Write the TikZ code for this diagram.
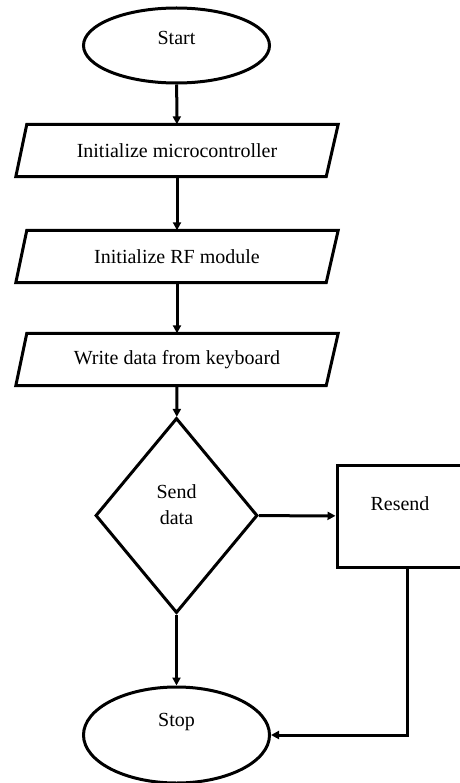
\documentclass[tikz,border=0pt]{standalone}
\usepackage{fontspec}
\setmainfont{Liberation Serif}
\usetikzlibrary{shapes.geometric,arrows.meta}

\begin{document}
\begin{tikzpicture}[x=1pt, y=-1pt,
    every node/.style={font=\fontsize{20}{26}\selectfont},
    outline/.style={draw=black, line width=3pt, line join=miter},
    flow/.style={line width=3pt, -{Triangle[length=8pt,width=8pt]}},
    terminal/.style={ellipse, outline, minimum width=186pt, inner sep=0pt},
    iobox/.style={rectangle, minimum width=322pt, minimum height=52pt, inner sep=0pt},
    decision/.style={diamond, outline, minimum width=162pt, minimum height=195pt, inner sep=0pt},
    process/.style={rectangle, outline, minimum width=141pt, minimum height=102pt, inner sep=0pt}]
    \useasboundingbox (0,0) rectangle (459,783);

    % Start
    \node[terminal, minimum height=75pt] (start) at (176.5, 45.5) {};
    \node (startlbl) at (176.5, 38) {Start};

    % Input boxes
    \node[iobox] (init) at (177, 150.5) {Initialize microcontroller};
    \node[iobox] (rf)   at (177, 256.5) {Initialize RF module};
    \node[iobox] (kbd)  at (177, 359.5) {Write data from keyboard};
    \foreach \n in {init,rf,kbd}
        \draw[outline] ([xshift=11pt]\n.north west) -- (\n.north east)
            -- ([xshift=-12pt]\n.south east) -- (\n.south west) -- cycle;

    % Decision
    \node[decision] (send) at (176.5, 515.5) {};
    \node[align=center] (sendlbl) at (176.5, 505) {Send\\data};

    % Resend
    \node[process] (resend) at (407.5, 516) {};
    \node (resendlbl) at (400, 504) {Resend};

    % Stop
    \node[terminal, minimum height=96pt] (stop) at (176.5, 735) {};
    \node (stoplbl) at (176.5, 722) {Stop};

    % Connectors
    \draw[flow] (start) -- (init);
    \draw[flow] (init) -- (rf);
    \draw[flow] (rf) -- (kbd);
    \draw[flow] (kbd) -- (send);
    \draw[flow] (send) -- (resend);
    \draw[flow] (send) -- (stop);
    \draw[flow] (resend.south) |- (stop.east);
\end{tikzpicture}
\end{document}
